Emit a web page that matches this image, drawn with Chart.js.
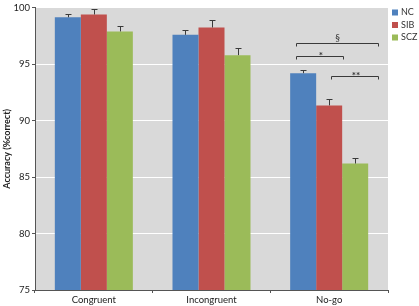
<!DOCTYPE html>
<html><head><meta charset="utf-8">
<script src="https://cdn.jsdelivr.net/npm/chart.js@4/dist/chart.umd.min.js"></script>
<style>html,body{margin:0;padding:0;background:#fff}#wrap{width:419px;height:306px}</style>
</head><body><div id="wrap"><canvas id="c" width="419" height="306"></canvas></div>
<script>
const categories = ["Congruent", "Incongruent", "No-go"];
const seriesNames = ["NC", "SIB", "SCZ"];
const ncValues  = [99.15, 97.6, 94.2];
const sibValues = [99.4, 98.25, 91.35];
const sczValues = [97.9, 95.8, 86.2];
const ncErr  = [0.25, 0.4, 0.3];
const sibErr = [0.45, 0.65, 0.55];
const sczErr = [0.45, 0.6, 0.5];
const yTicks = [75, 80, 85, 90, 95, 100];
// significance brackets in No-go: label, level (value)
const sigLabels = ["§", "*", "**"];
const sigLevels = [96.9, 95.7, 93.95];

const colors = ["#4f81bd", "#c0504d", "#9bbb59"];
const FONT = "Lato, 'Open Sans', sans-serif";

const bgPlugin = {
  id: 'bg',
  beforeDraw(chart) {
    const {ctx, chartArea: a} = chart;
    ctx.save(); ctx.fillStyle = '#d9d9d9';
    ctx.fillRect(a.left, a.top, a.right - a.left, a.bottom - a.top);
    ctx.restore();
  }
};

const errPlugin = {
  id: 'err',
  afterDatasetsDraw(chart) {
    const ctx = chart.ctx; const y = chart.scales.y;
    ctx.save(); ctx.strokeStyle = '#3a3a3a'; ctx.lineWidth = 1;
    chart.data.datasets.forEach((ds, di) => {
      const meta = chart.getDatasetMeta(di);
      meta.data.forEach((bar, i) => {
        const v = ds.data[i], e = ds.errs[i];
        const x = Math.round(bar.x) + 0.5;
        const y0 = y.getPixelForValue(v), y1 = Math.round(y.getPixelForValue(v + e)) + 0.5;
        ctx.beginPath();
        ctx.moveTo(x, y0); ctx.lineTo(x, y1);
        ctx.moveTo(x - 3, y1); ctx.lineTo(x + 3, y1);
        ctx.stroke();
      });
    });
    // significance brackets on No-go
    const xs = chart.scales.x;
    const cw = (xs.right - xs.left) / categories.length;
    const c0 = xs.getPixelForValue(2) - cw / 2;
    const spans = [[0.218, 0.914], [0.218, 0.614], [0.515, 0.914]];
    ctx.fillStyle = '#333'; ctx.textAlign = 'center'; ctx.textBaseline = 'bottom';
    sigLevels.forEach((lv, k) => {
      const yy = Math.round(y.getPixelForValue(lv)) + 0.5;
      const xa = Math.round(c0 + spans[k][0] * cw) + 0.5, xb = Math.round(c0 + spans[k][1] * cw) + 0.5;
      ctx.beginPath();
      ctx.moveTo(xa, yy + 3); ctx.lineTo(xa, yy); ctx.lineTo(xb, yy); ctx.lineTo(xb, yy + 3);
      ctx.stroke();
      ctx.font = (k === 0 ? '9.5px ' : 'bold 10px ') + FONT;
      ctx.fillText(sigLabels[k], (xa + xb) / 2 + (k === 0 ? 0 : 1), yy - (k === 0 ? 1 : -4));
    });
    // legend
    ctx.textAlign = 'left'; ctx.textBaseline = 'middle'; ctx.font = '9px ' + FONT;
    seriesNames.forEach((n, k) => {
      const ly = 12.5 + k * 12.5;
      ctx.fillStyle = colors[k]; ctx.fillRect(392, ly - 3, 6, 6);
      ctx.fillStyle = '#333'; ctx.fillText(n, 401, ly);
    });
    ctx.restore();
  }
};

new Chart(document.getElementById('c'), {
  type: 'bar',
  data: {
    labels: categories,
    datasets: [
      {label: seriesNames[0], data: ncValues, errs: ncErr, backgroundColor: colors[0]},
      {label: seriesNames[1], data: sibValues, errs: sibErr, backgroundColor: colors[1]},
      {label: seriesNames[2], data: sczValues, errs: sczErr, backgroundColor: colors[2]}
    ]
  },
  options: {
    responsive: false, animation: false,
    devicePixelRatio: 1,
    layout: {padding: {top: 5, right: 31, left: 2, bottom: 0}},
    plugins: {legend: {display: false}, tooltip: {enabled: false}},
    datasets: {bar: {barPercentage: 1, categoryPercentage: 0.663}},
    scales: {
      x: {
        grid: {drawOnChartArea: false, offset: true, tickLength: 3, color: '#555'},
        border: {color: '#555'},
        ticks: {color: '#222', font: {family: FONT, size: 9.5}, padding: 1},
        afterFit(s) { s.height = 16; }
      },
      y: {
        min: 75, max: 100,
        afterBuildTicks(s) { s.ticks = yTicks.map(v => ({value: v})); },
        grid: {color: '#ffffff', lineWidth: 1, tickLength: 3, tickColor: '#555'},
        border: {color: '#555'},
        ticks: {color: '#222', font: {family: FONT, size: 9.5}, padding: 2},
        title: {display: true, text: 'Accuracy (%correct)', color: '#222', font: {family: FONT, size: 9, weight: 'bold'}, padding: {top: 0, bottom: 2}},
        afterFit(s) { s.width = 33; }
      }
    }
  },
  plugins: [bgPlugin, errPlugin]
});
</script></body></html>
